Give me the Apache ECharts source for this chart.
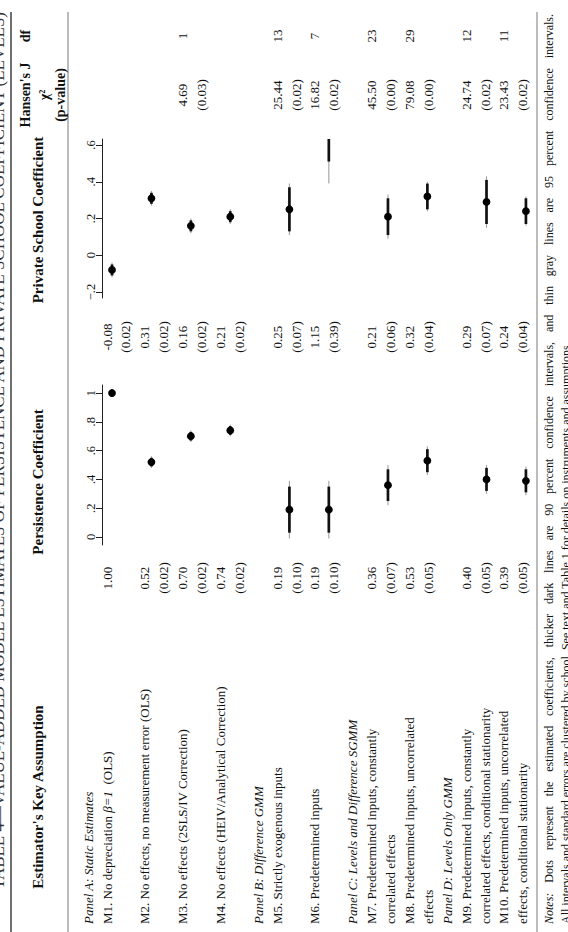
<!DOCTYPE html>
<html>
<head>
<meta charset="utf-8">
<script src="https://cdn.jsdelivr.net/npm/echarts@6/dist/echarts.min.js"></script>
<style>
html, body { margin: 0; padding: 0; background: #fff; }
#main { width: 568px; height: 932px; }
</style>
</head>
<body>
<div id="main"></div>
<script>
// table rows
var panelNames = ['Panel A: Static Estimates', 'Panel B: Difference GMM', 'Panel C: Levels and Difference SGMM', 'Panel D: Levels Only GMM'];
var panelModelCount = [4, 2, 2, 2];
var modelLabels = [
    ['M1. No depreciation {it|β=1}  (OLS)'],
    ['M2. No effects, no measurement error (OLS)'],
    ['M3. No effects (2SLS/IV Correction)'],
    ['M4. No effects (HEIV/Analytical Correction)'],
    ['M5. Strictly exogenous inputs'],
    ['M6. Predetermined inputs'],
    ['M7. Predetermined inputs, constantly', 'correlated effects'],
    ['M8. Predetermined inputs, uncorrelated', 'effects'],
    ['M9. Predetermined inputs, constantly', 'correlated effects, conditional stationarity'],
    ['M10. Predetermined inputs, uncorrelated', 'effects, conditional stationarity']
];

// persistence coefficient
var persCoef = [1.00, 0.52, 0.70, 0.74, 0.19, 0.19, 0.36, 0.53, 0.40, 0.39];
var persSE = [null, 0.02, 0.02, 0.02, 0.10, 0.10, 0.07, 0.05, 0.05, 0.05];
var persLo90 = [null, 0.49, 0.67, 0.71, 0.03, 0.03, 0.25, 0.45, 0.32, 0.31];
var persHi90 = [null, 0.55, 0.73, 0.77, 0.35, 0.35, 0.47, 0.61, 0.48, 0.47];
var persLo95 = [null, 0.48, 0.66, 0.70, -0.01, -0.01, 0.22, 0.43, 0.30, 0.29];
var persHi95 = [null, 0.56, 0.74, 0.78, 0.39, 0.39, 0.50, 0.63, 0.50, 0.49];

// private school coefficient
var privCoef = [-0.08, 0.31, 0.16, 0.21, 0.25, 1.15, 0.21, 0.32, 0.29, 0.24];
var privSE = [0.02, 0.02, 0.02, 0.02, 0.07, 0.39, 0.06, 0.04, 0.07, 0.04];
var privLo90 = [-0.11, 0.28, 0.13, 0.18, 0.13, 0.51, 0.11, 0.25, 0.17, 0.17];
var privHi90 = [-0.05, 0.34, 0.19, 0.24, 0.37, 1.79, 0.31, 0.39, 0.41, 0.31];
var privLo95 = [-0.12, 0.27, 0.12, 0.17, 0.11, 0.39, 0.09, 0.24, 0.15, 0.16];
var privHi95 = [-0.04, 0.35, 0.20, 0.25, 0.39, 1.91, 0.33, 0.40, 0.43, 0.32];

// Hansen's J
var hansenChi2 = [null, null, 4.69, null, 25.44, 16.82, 45.50, 79.08, 24.74, 23.43];
var hansenP = [null, null, 0.03, null, 0.02, 0.02, 0.00, 0.00, 0.02, 0.02];
var hansenDf = [null, null, 1, null, 13, 7, 23, 29, 12, 11];

var persTicks = [0, 0.2, 0.4, 0.6, 0.8, 1];
var privTicks = [-0.2, 0, 0.2, 0.4, 0.6];

var titleText = 'TABLE 4—VALUE-ADDED MODEL ESTIMATES OF PERSISTENCE AND PRIVATE SCHOOL COEFFICIENT (LEVELS)';
var notes1 = 'Dots represent the estimated coefficients, thicker dark lines are 90 percent confidence intervals, and thin gray lines are 95 percent confidence intervals.';
var notes2 = 'All intervals and standard errors are clustered by school. See text and Table 1 for details on instruments and assumptions.';

// ---------------------------------------------------------------- layout (page is turned on its side)
var FONT = 'Liberation Serif';
var BODY = 13;
// text lines of the table
function rowX(n) { return 107 + (n - 2) * 18.9; }
// the embedded graph has its own row spacing
var gA = 72.6, gB = 19.71;

var labelY = 924, persValY = 578, privValY = 337, chiY = 95, dfY = 36;
var ruleTop = 12;
var gridLeft = 102, xMax = 24;
var xMin = (gridLeft - gA) / gB, gridRight = gA + gB * xMax;

// line number of each panel header / model
var panelLine = [], modelLine = [];
var ln = 1;
panelModelCount.forEach(function (cnt) {
    panelLine.push(ln); ln++;
    for (var k = 0; k < cnt; k++) { modelLine.push(ln); ln += 2; }
});

function T(px, py, text, o) {
    o = o || {};
    var size = o.size || BODY;
    return {
        type: 'text', x: px, y: py, rotation: Math.PI / 2, silent: true,
        style: {
            text: text,
            fill: o.color || '#111',
            fontFamily: FONT,
            fontSize: size,
            fontWeight: o.bold ? 'bold' : 'normal',
            fontStyle: o.italic ? 'italic' : 'normal',
            textAlign: o.align || 'left',
            textVerticalAlign: 'middle',
            rich: { it: { fontStyle: 'italic', fontFamily: FONT, fontSize: size, fill: '#111' } }
        }
    };
}
function L(x1, y1, x2, y2, w, c) {
    return { type: 'line', silent: true, shape: { x1: x1, y1: y1, x2: x2, y2: y2 }, style: { stroke: c || '#111', lineWidth: w || 1 } };
}
function fmt(v) { return v == null ? '' : v.toFixed(2); }

var ctx = document.createElement('canvas').getContext('2d');
function textW(s, size, style) {
    ctx.font = (style || '') + ' ' + size + 'px "' + FONT + '"';
    return ctx.measureText(s).width;
}

var g = [];
// rules
g.push(L(11, ruleTop, 11, 932, 1.3, '#222'));
g.push(L(68, ruleTop, 68, 932, 0.8, '#555'));
g.push(L(537, ruleTop, 537, 932, 0.8, '#555'));

// title (cut by the page edge)
var tSize = 14 * 880 / textW(titleText, 14);
g.push(T(-2, 12, titleText, { size: tSize, align: 'right', color: '#333' }));

// header
g.push(T(38, 797, "Estimator's Key Assumption", { bold: true, size: 15, align: 'center' }));
g.push(T(38, 482, 'Persistence Coefficient', { bold: true, size: 15, align: 'center' }));
g.push(T(38, 220, 'Private School Coefficient', { bold: true, size: 15, align: 'center' }));
g.push(T(25, chiY, "Hansen's J", { bold: true, size: 14, align: 'center' }));
g.push(T(25, dfY, 'df', { bold: true, size: 14, align: 'center' }));
g.push(T(44, chiY, 'χ²', { bold: true, size: 14, align: 'center' }));
g.push(T(60, chiY, '(p-value)', { bold: true, size: 14, align: 'center' }));

// rows
panelNames.forEach(function (p, i) {
    g.push(T(rowX(panelLine[i]), labelY, p, { italic: true }));
});
modelLabels.forEach(function (lines, i) {
    lines.forEach(function (s, k) { g.push(T(rowX(modelLine[i] + k), labelY, s)); });
    var a = rowX(modelLine[i]), b = rowX(modelLine[i] + 1);
    g.push(T(a, persValY, fmt(persCoef[i]), { align: 'center' }));
    if (persSE[i] != null) g.push(T(b, persValY, '(' + fmt(persSE[i]) + ')', { align: 'center' }));
    g.push(T(a, privValY, fmt(privCoef[i]), { align: 'center' }));
    g.push(T(b, privValY, '(' + fmt(privSE[i]) + ')', { align: 'center' }));
    if (hansenChi2[i] != null) {
        g.push(T(a, chiY, fmt(hansenChi2[i]), { align: 'center' }));
        g.push(T(b, chiY, '(' + fmt(hansenP[i]) + ')', { align: 'center' }));
        g.push(T(a, dfY, String(hansenDf[i]), { align: 'center' }));
    }
});

// notes, first line justified to the table width
var nSize = 12;
var nx1 = 549, nx2 = 566;
var words = ['{it|Notes:}'].concat(notes1.split(' '));
var widths = words.map(function (w, i) {
    return i === 0 ? textW('Notes:', nSize, 'italic') : textW(w, nSize);
});
var total = widths.reduce(function (s, w) { return s + w; }, 0);
var start = labelY, end = 14;
var gap = ((start - end) - total) / (words.length - 1);
var pos = start;
words.forEach(function (w, i) {
    g.push(T(nx1, pos, w, { size: nSize }));
    pos -= widths[i] + gap;
});
g.push(T(nx2, start, notes2, { size: nSize }));

function renderCoef(params, api) {
    var x = api.value(0);
    var kids = [];
    var lo95 = api.value(4), hi95 = api.value(5), lo90 = api.value(2), hi90 = api.value(3);
    if (!isNaN(lo95)) {
        var a = api.coord([x, lo95]), b = api.coord([x, hi95]);
        kids.push({ type: 'line', shape: { x1: a[0], y1: a[1], x2: b[0], y2: b[1] }, style: { stroke: '#a0a0a0', lineWidth: 1.1 } });
    }
    if (!isNaN(lo90)) {
        var c = api.coord([x, lo90]), d = api.coord([x, hi90]);
        kids.push({ type: 'line', shape: { x1: c[0], y1: c[1], x2: d[0], y2: d[1] }, style: { stroke: '#111', lineWidth: 2.7 } });
    }
    var p = api.coord([x, api.value(1)]);
    kids.push({ type: 'circle', shape: { cx: p[0], cy: p[1], r: 3.9 }, style: { fill: '#000' } });
    return { type: 'group', children: kids };
}

function tickFmt(v) {
    if (v === 0) return '0';
    var s = String(Math.abs(Math.round(v * 10) / 10)).replace(/^0/, '');
    return (v < 0 ? '−' : '') + s;
}
function valueAxis(idx, min, max, ticks) {
    return {
        gridIndex: idx, type: 'value', min: min, max: max, position: 'left',
        axisLine: { show: true, onZero: false, lineStyle: { color: '#222', width: 1 } },
        axisTick: { show: true, length: 6, customValues: ticks, lineStyle: { color: '#222' } },
        axisLabel: { customValues: ticks, formatter: tickFmt, rotate: 90, margin: 5, color: '#111', fontFamily: FONT, fontSize: 12.5 },
        splitLine: { show: false }
    };
}

var persData = persCoef.map(function (v, i) { return [modelLine[i], v, persLo90[i], persHi90[i], persLo95[i], persHi95[i]]; });
var privData = privCoef.map(function (v, i) { return [modelLine[i], v, privLo90[i], privHi90[i], privLo95[i], privHi95[i]]; });

var chart = echarts.init(document.getElementById('main'), null, { renderer: 'svg' });
chart.setOption({
    animation: false,
    backgroundColor: '#fff',
    grid: [
        { left: gridLeft, top: 385, width: gridRight - gridLeft, height: 160 },
        { left: gridLeft, top: 139, width: gridRight - gridLeft, height: 159 }
    ],
    xAxis: [
        { gridIndex: 0, type: 'value', min: xMin, max: xMax, show: false },
        { gridIndex: 1, type: 'value', min: xMin, max: xMax, show: false }
    ],
    yAxis: [
        valueAxis(0, -0.0556, 1.0556, persTicks),
        valueAxis(1, -0.2327, 0.6327, privTicks)
    ],
    series: [
        { type: 'custom', xAxisIndex: 0, yAxisIndex: 0, clip: true, silent: true, renderItem: renderCoef, encode: { x: 0, y: 1 }, data: persData },
        { type: 'custom', xAxisIndex: 1, yAxisIndex: 1, clip: true, silent: true, renderItem: renderCoef, encode: { x: 0, y: 1 }, data: privData }
    ],
    graphic: g
});
</script>
</body>
</html>
